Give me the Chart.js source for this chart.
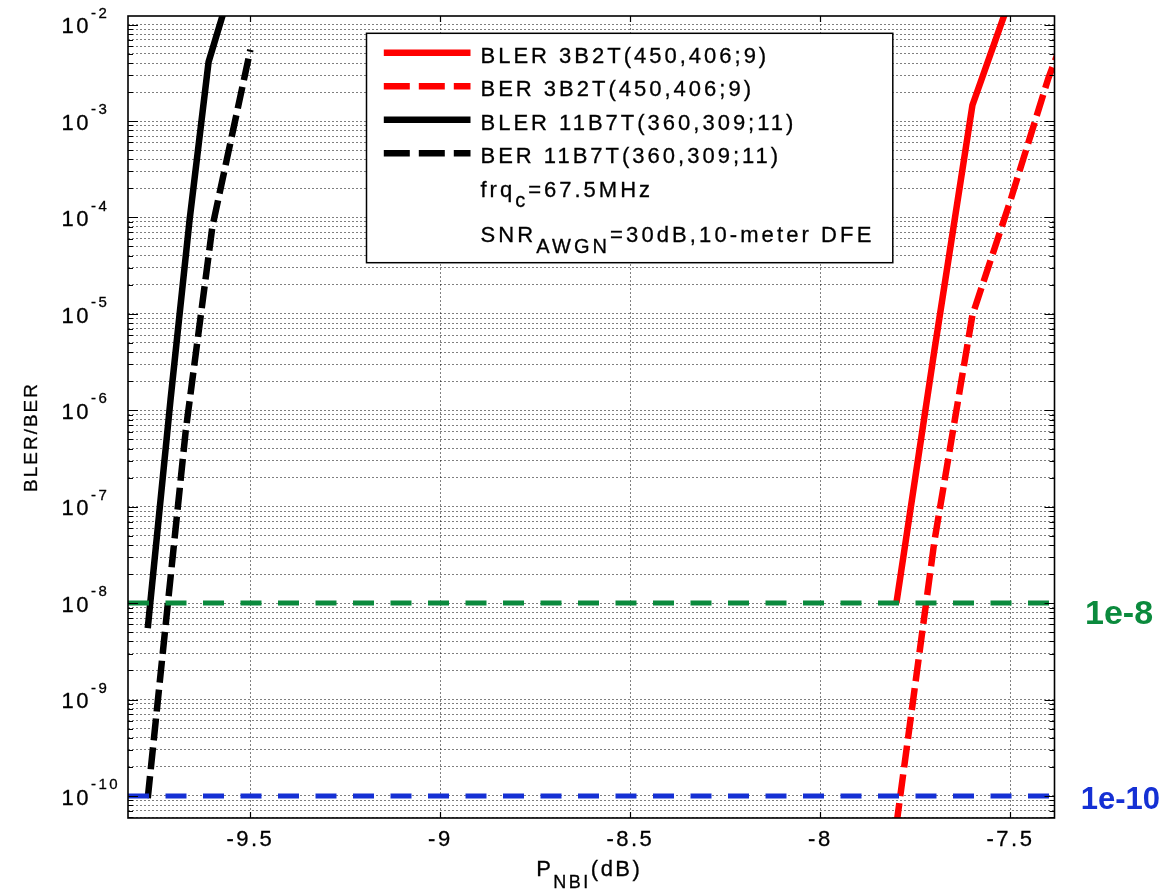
<!DOCTYPE html>
<html>
<head>
<meta charset="utf-8">
<title>BLER/BER vs P_NBI</title>
<script src="https://cdn.jsdelivr.net/npm/chart.js@4.4.1/dist/chart.umd.min.js"></script>
<style>
  html, body { margin: 0; padding: 0; background: #ffffff; }
  #wrap { width: 1162px; height: 889px; }
</style>
</head>
<body>
<div id="wrap"><canvas id="berChart" width="1162" height="889"></canvas></div>
<script>
// axis limits: P_NBI in dB, error rate on a log axis
const xRange = [-9.822, -7.384];
const yRange = [5.9e-11, 1.23e-2];
const xTicks = [-9.5, -9, -8.5, -8, -7.5];
const yDecades = [-11, -10, -9, -8, -7, -6, -5, -4, -3, -2];
const yMantissas = [1, 2, 3, 4, 5, 6, 7, 8, 9];

// 3B2T(450,406;9)
const pnbi3B2TBler = [-7.8, -7.7, -7.6, -7.5];
const bler3B2T = [1.0e-8, 4.2e-6, 1.46e-3, 1.9e-2];
const pnbi3B2TBer = [-7.8, -7.7, -7.6, -7.5, -7.4, -7.3];
const ber3B2T = [5.0e-11, 4.4e-8, 9.7e-6, 1.5e-4, 2.8e-3, 3.0e-2];

// 11B7T(360,309;11)
const pnbi11B7TBler = [-9.77, -9.71, -9.66, -9.61, -9.55];
const bler11B7T = [5.5e-9, 1.3e-6, 9.4e-5, 4.1e-3, 2.5e-2];
const pnbi11B7TBer = [-9.77, -9.67, -9.60, -9.50];
const ber11B7T = [9.5e-11, 6.2e-7, 8.0e-5, 5.5e-3];

// target error levels drawn across the whole axis
const targetLevels = [1e-8, 1e-10];
const targetLabels = ['1e-8', '1e-10'];
const targetColors = ['#0b8a3d', '#1530d4'];

const FONT = '"Liberation Sans", Arial, Helvetica, sans-serif';
const TEXT_STROKE = 0.3; // 元画像の文字が少し太いので薄く縁取り

// y ticks: every m * 10^e inside the axis limits
const yTickValues = [];
yDecades.forEach(e => {
    yMantissas.forEach(m => {
        const v = m * Math.pow(10, e);
        if (v >= yRange[0] && v <= yRange[1]) {
            yTickValues.push(v);
        }
    });
});

const toPoints = (xs, ys) => xs.map((v, i) => ({x: v, y: ys[i]}));
const isDecade = v => Math.abs(Math.log10(v) - Math.round(Math.log10(v))) < 1e-9;
const fontOf = (size, bold) => (bold ? 'bold ' : '') + size + 'px ' + FONT;

/**
 * 文字列をつなげて描く（上付き・下付き用）
 */
const drawRuns = function (ctx, x, y, runs, spacing) {
    ctx.save();
    ctx.textAlign = 'left';
    ctx.textBaseline = 'alphabetic';
    ctx.letterSpacing = spacing + 'px';
    runs.forEach(r => {
        ctx.font = fontOf(r.size, r.bold);
        ctx.fillStyle = r.color || '#000000';
        ctx.fillText(r.text, x, y + (r.dy || 0));
        if (!r.bold) {
            ctx.strokeStyle = r.color || '#000000';
            ctx.lineWidth = TEXT_STROKE;
            ctx.strokeText(r.text, x, y + (r.dy || 0));
        }
        x += ctx.measureText(r.text).width;
    });
    ctx.restore();
    return x;
};

const runsWidth = function (ctx, runs, spacing) {
    ctx.save();
    ctx.letterSpacing = spacing + 'px';
    let w = 0;
    runs.forEach(r => {
        ctx.font = fontOf(r.size, r.bold);
        w += ctx.measureText(r.text).width;
    });
    ctx.restore();
    return w;
};

// MATLAB風の枠・目盛・凡例・注記
const matlabFrame = {
    id: 'matlabFrame',
    beforeDraw(chart) {
        chart.ctx.letterSpacing = '2.5px';
    },
    afterDatasetsDraw(chart) {
        const {ctx, chartArea: a, scales: {x, y}} = chart;
        ctx.save();
        ctx.letterSpacing = '0px';
        ctx.strokeStyle = '#000000';
        ctx.lineWidth = 1.2;
        ctx.beginPath();
        y.ticks.forEach(t => {
            const py = Math.round(y.getPixelForValue(t.value)) + 0.5;
            const len = isDecade(t.value) ? 10 : 5;
            ctx.moveTo(a.left, py);
            ctx.lineTo(a.left + len, py);
            ctx.moveTo(a.right, py);
            ctx.lineTo(a.right - len, py);
        });
        x.ticks.forEach(t => {
            const px = Math.round(x.getPixelForValue(t.value)) + 0.5;
            ctx.moveTo(px, a.top);
            ctx.lineTo(px, a.top + 6);
            ctx.moveTo(px, a.bottom);
            ctx.lineTo(px, a.bottom - 6);
        });
        ctx.stroke();
        ctx.lineWidth = 1.6;
        ctx.strokeRect(a.left, a.top, a.right - a.left, a.bottom - a.top);
        ctx.restore();
    },
    afterDraw(chart) {
        const {ctx, chartArea: a, scales: {y}} = chart;

        // y tick labels 10^n
        y.ticks.forEach(t => {
            if (!isDecade(t.value)) {
                return;
            }
            const py = y.getPixelForValue(t.value);
            const exp = Math.round(Math.log10(t.value));
            drawRuns(ctx, a.left - 66.5, py + 8.7, [
                {text: '10', size: 22},
                {text: String(exp), size: 15, dy: -15.5},
            ], 2.5);
        });

        // y axis title
        ctx.save();
        ctx.translate(a.left - 96, (a.top + a.bottom) / 2 + 20);
        ctx.rotate(-Math.PI / 2);
        ctx.font = fontOf(19);
        ctx.letterSpacing = '2px';
        ctx.fillStyle = '#000000';
        ctx.strokeStyle = '#000000';
        ctx.lineWidth = TEXT_STROKE;
        ctx.textAlign = 'center';
        ctx.textBaseline = 'middle';
        ctx.fillText('BLER/BER', 0, 0);
        ctx.strokeText('BLER/BER', 0, 0);
        ctx.restore();

        // x axis title P_NBI(dB)
        const xTitle = [
            {text: 'P', size: 22},
            {text: 'NBI', size: 18, dy: 11.5},
            {text: '(dB)', size: 22},
        ];
        const xw = runsWidth(ctx, xTitle, 2.5);
        drawRuns(ctx, (a.left + a.right) / 2 - 2 - xw / 2, 876, xTitle, 2.5);

        // target level labels
        targetLevels.forEach((lv, i) => {
            const py = y.getPixelForValue(lv);
            const big = i === 0;
            drawRuns(ctx, a.right + (big ? 30.5 : 26.2), py + (big ? 20.5 : 12.6), [
                {text: targetLabels[i], size: big ? 34 : 31, bold: true, color: targetColors[i]},
            ], 0);
        });

        // legend
        const box = {left: a.left + 238.5, top: a.top + 17.3, width: 526.3, height: 229.4};
        ctx.save();
        ctx.fillStyle = '#ffffff';
        ctx.fillRect(box.left, box.top, box.width, box.height);
        ctx.strokeStyle = '#000000';
        ctx.lineWidth = 1.5;
        ctx.strokeRect(box.left, box.top, box.width, box.height);
        ctx.restore();

        const entries = chart.data.datasets.filter(ds => ds.inLegend);
        entries.forEach((ds, i) => {
            const cy = box.top + 19.5 + i * 33.5;
            ctx.save();
            ctx.strokeStyle = ds.borderColor;
            ctx.lineWidth = 6.5;
            ctx.lineCap = 'butt';
            ctx.setLineDash(ds.borderDash ? [26, 9] : []);
            ctx.beginPath();
            ctx.moveTo(box.left + 17.3, cy);
            ctx.lineTo(box.left + 104, cy);
            ctx.stroke();
            ctx.restore();
            drawRuns(ctx, box.left + 114, cy + 9.8, [{text: ds.label, size: 22}], 3);
        });
        drawRuns(ctx, box.left + 114, box.top + 163.4, [
            {text: 'frq', size: 22},
            {text: 'c', size: 20, dy: 10},
            {text: '=67.5MHz', size: 22},
        ], 3);
        drawRuns(ctx, box.left + 114, box.top + 208.4, [
            {text: 'SNR', size: 22},
            {text: 'AWGN', size: 20, dy: 11.6},
            {text: '=30dB,10-meter DFE', size: 22},
        ], 3.1);
    },
};

const curve = {
    pointRadius: 0,
    borderWidth: 6.5,
    tension: 0,
    borderCapStyle: 'butt',
    borderJoinStyle: 'miter',
    fill: false,
    clip: 0,
    order: 1,
    inLegend: true,
};

const target = (i) => ({
    label: 'target ' + targetLabels[i],
    data: toPoints(xRange, [targetLevels[i], targetLevels[i]]),
    borderColor: targetColors[i],
    borderWidth: 5,
    borderDash: [21, 16.5],
    borderCapStyle: 'butt',
    pointRadius: 0,
    fill: false,
    clip: 0,
    order: 0,
});

const gridStyle = {
    color: 'rgba(0, 0, 0, 0.5)',
    lineWidth: 1,
    drawTicks: false,
};

new Chart(document.getElementById('berChart'), {
    type: 'line',
    data: {
        datasets: [
            target(0),
            target(1),
            Object.assign({}, curve, {
                label: 'BLER 3B2T(450,406;9)',
                data: toPoints(pnbi3B2TBler, bler3B2T),
                borderColor: '#ff0000',
            }),
            Object.assign({}, curve, {
                label: 'BER 3B2T(450,406;9)',
                data: toPoints(pnbi3B2TBer, ber3B2T),
                borderColor: '#ff0000',
                borderDash: [22, 7],
            }),
            Object.assign({}, curve, {
                label: 'BLER 11B7T(360,309;11)',
                data: toPoints(pnbi11B7TBler, bler11B7T),
                borderColor: '#000000',
            }),
            Object.assign({}, curve, {
                label: 'BER 11B7T(360,309;11)',
                data: toPoints(pnbi11B7TBer, ber11B7T),
                borderColor: '#000000',
                borderDash: [22, 7],
            }),
        ],
    },
    options: {
        responsive: false,
        animation: false,
        devicePixelRatio: 1,
        layout: {
            padding: {left: 0, right: 107.5, top: 16, bottom: 0},
        },
        plugins: {
            legend: {display: false},
            title: {display: false},
            tooltip: {enabled: false},
        },
        scales: {
            x: {
                type: 'linear',
                min: xRange[0],
                max: xRange[1],
                afterBuildTicks: scale => {
                    scale.ticks = xTicks.map(v => ({value: v}));
                },
                afterFit: scale => {
                    scale.height = 71;
                },
                ticks: {
                    callback: v => String(v),
                    color: '#000000',
                    textStrokeColor: '#000000',
                    textStrokeWidth: TEXT_STROKE,
                    font: {family: FONT, size: 22},
                    padding: 9,
                    autoSkip: false,
                    maxRotation: 0,
                },
                grid: gridStyle,
                border: {display: false, dash: [2, 2]},
            },
            y: {
                type: 'logarithmic',
                min: yRange[0],
                max: yRange[1],
                afterBuildTicks: scale => {
                    scale.ticks = yTickValues.map(v => ({value: v}));
                },
                afterFit: scale => {
                    scale.width = 128;
                },
                ticks: {display: false},
                grid: gridStyle,
                border: {display: false, dash: [2, 2]},
            },
        },
    },
    plugins: [matlabFrame],
});
</script>
</body>
</html>
